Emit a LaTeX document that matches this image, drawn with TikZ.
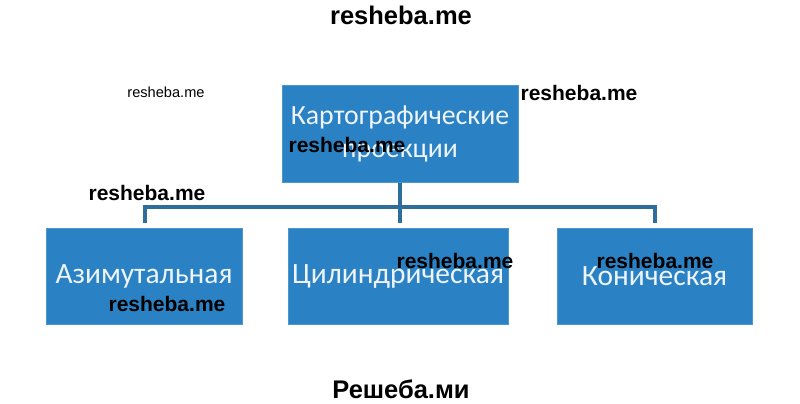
\documentclass[tikz,border=0pt]{standalone}
\usepackage{fontspec}
\setmainfont{Carlito}
\newfontfamily\wmfont{Liberation Sans}
\definecolor{boxblue}{HTML}{2A82C4}
\definecolor{boxedge}{HTML}{4D97CE}
\definecolor{linkblue}{HTML}{2E6E9C}
\definecolor{boxtext}{HTML}{EEF4FA}
\begin{document}
\begin{tikzpicture}[x=1pt,y=-1pt,
  card/.style={draw=boxedge,line width=1pt,fill=boxblue,text=boxtext,inner sep=0pt,align=center,font=\fontsize{29.5}{34}\selectfont},
  link/.style={draw=linkblue,line width=3.5pt},
  wm/.style={inner sep=0pt,font=\wmfont\bfseries\fontsize{21}{23}\selectfont,text=black},
  wmbig/.style={inner sep=0pt,font=\wmfont\bfseries\fontsize{25.5}{27}\selectfont,text=black},
  wmsmall/.style={inner sep=0pt,font=\wmfont\fontsize{14.6}{16}\selectfont,text=black}]
\useasboundingbox (0,0) rectangle (800,404);
\node[card,minimum width=236pt,minimum height=97pt,font=\fontsize{27.8}{33.5}\selectfont] (top) at (400,134) {Картографические\\проекции};
\node[card,minimum width=196pt,minimum height=96pt] (azi) at (144,276) {Азимутальная};
\node[card,minimum width=220pt,minimum height=96pt] (cyl) at (398,276) {Цилиндрическая};
\node[card,minimum width=195pt,minimum height=96pt] (con) at (654.5,276) {Коническая};
\coordinate (j) at (400,207);
\coordinate (ja) at (145,207);
\coordinate (jc) at (655,207);
\coordinate (ea) at (145,223);
\coordinate (ec) at (400,223);
\coordinate (eo) at (655,223);
\draw[link] (top.south -| j) -- (ec);
\draw[link] (ea) -- (ja) -- (jc) -- (eo);
% watermarks
\node[wmbig] (w1) at (401,15) {resheba.me};
\node[wmsmall] (w2) at (166,92) {resheba.me};
\node[wm] (w3) at (579,93) {resheba.me};
\node[wm] (w4) at (347,145) {resheba.me};
\node[wm] (w5) at (147,193) {resheba.me};
\node[wm] (w6) at (455,261) {resheba.me};
\node[wm] (w7) at (655,261) {resheba.me};
\node[wm] (w8) at (167,304) {resheba.me};
\node[wmbig] (w9) at (401,389) {Решеба.ми};
\end{tikzpicture}
\end{document}
